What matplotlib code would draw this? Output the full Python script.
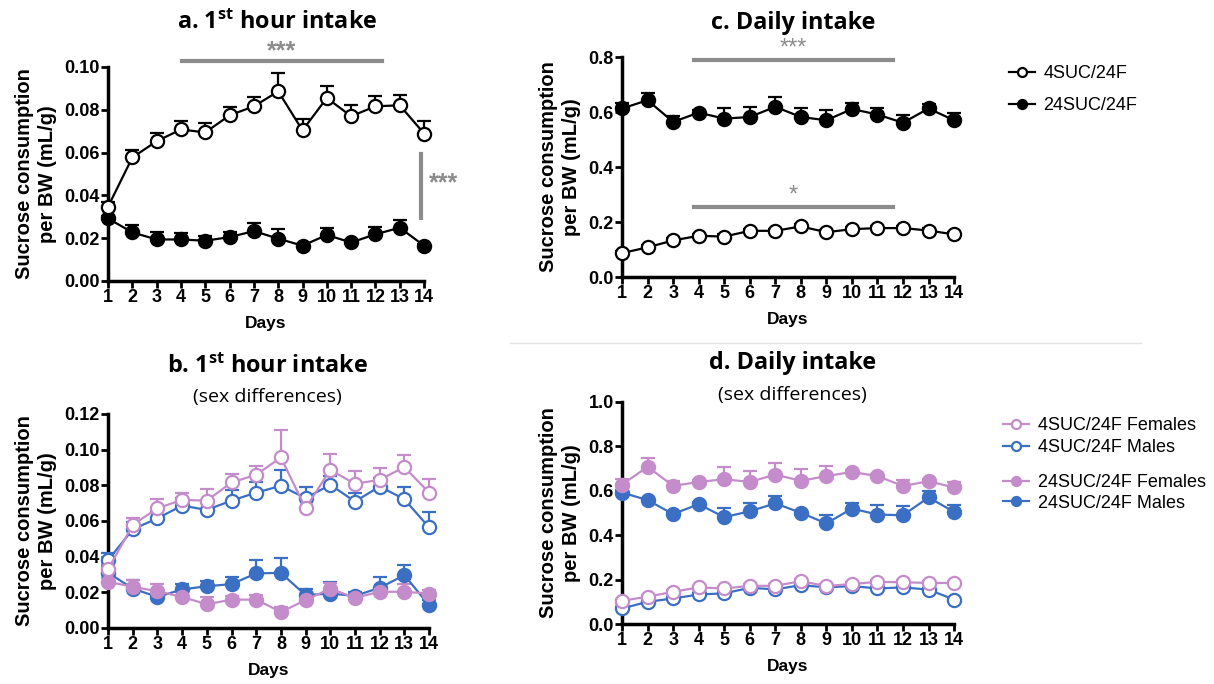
import matplotlib.pyplot as plt
import numpy as np
from matplotlib.lines import Line2D

plt.rcParams['font.family'] = ['Liberation Sans', 'DejaVu Sans']
plt.rcParams['mathtext.fontset'] = 'custom'
plt.rcParams['mathtext.rm'] = 'Open Sans'
plt.rcParams['mathtext.bf'] = 'Open Sans:bold'

days = np.arange(1, 15)

# a. 1st hour intake
a_4suc = [0.0347, 0.0577, 0.0653, 0.0708, 0.0694, 0.0774, 0.0816, 0.0886, 0.0704, 0.0855, 0.0770, 0.0816, 0.0821, 0.0689]
a_4suc_err = [0.002, 0.0034, 0.004, 0.004, 0.0042, 0.004, 0.0044, 0.0088, 0.0055, 0.0056, 0.0053, 0.0047, 0.005, 0.006]
a_24suc = [0.0292, 0.0227, 0.0194, 0.0194, 0.0188, 0.0205, 0.0233, 0.0198, 0.0165, 0.0215, 0.0180, 0.0218, 0.0249, 0.0165]
a_24suc_err = [0.001, 0.0033, 0.0036, 0.003, 0.0022, 0.0025, 0.004, 0.0043, 0.001, 0.0032, 0.001, 0.0034, 0.0036, 0.001]

# c. daily intake
c_24suc = [0.613, 0.643, 0.564, 0.598, 0.576, 0.582, 0.619, 0.582, 0.570, 0.611, 0.591, 0.561, 0.613, 0.570]
c_24suc_err = [0.02, 0.028, 0.02, 0.01, 0.04, 0.037, 0.034, 0.031, 0.039, 0.022, 0.025, 0.028, 0.018, 0.025]
c_4suc = [0.087, 0.108, 0.133, 0.150, 0.147, 0.168, 0.168, 0.184, 0.163, 0.174, 0.178, 0.178, 0.169, 0.155]
c_4suc_err = [0.008] * 14

# b. 1st hour intake, sex differences
b_4suc_f = [0.0328, 0.0578, 0.0671, 0.0718, 0.0714, 0.0816, 0.0859, 0.0956, 0.0671, 0.0887, 0.0808, 0.0831, 0.0902, 0.0759]
b_4suc_f_err = [0.003, 0.004, 0.005, 0.004, 0.0064, 0.005, 0.0047, 0.0156, 0.005, 0.0088, 0.007, 0.0065, 0.0066, 0.0077]
b_4suc_m = [0.038, 0.0553, 0.0615, 0.0686, 0.0662, 0.0714, 0.0759, 0.0797, 0.0728, 0.0803, 0.0709, 0.0793, 0.0722, 0.0564]
b_4suc_m_err = [0.004, 0.004, 0.004, 0.004, 0.004, 0.006, 0.006, 0.0086, 0.0065, 0.005, 0.005, 0.005, 0.0066, 0.0085]
b_24suc_f = [0.0259, 0.0231, 0.0206, 0.0174, 0.0133, 0.0159, 0.0159, 0.009, 0.0156, 0.0221, 0.0169, 0.0203, 0.0203, 0.0193]
b_24suc_f_err = [0.002, 0.004, 0.0043, 0.003, 0.004, 0.002, 0.0025, 0.0028, 0.002, 0.003, 0.002, 0.002, 0.0046, 0.002]
b_24suc_m = [0.031, 0.0221, 0.0174, 0.0216, 0.0234, 0.0246, 0.0306, 0.0309, 0.0184, 0.0193, 0.018, 0.0225, 0.0296, 0.0128]
b_24suc_m_err = [0.004, 0.005, 0.003, 0.003, 0.003, 0.004, 0.0074, 0.0085, 0.0037, 0.0066, 0.002, 0.006, 0.0057, 0.003]

# d. daily intake, sex differences
d_24suc_f = [0.628, 0.708, 0.622, 0.640, 0.652, 0.640, 0.673, 0.645, 0.666, 0.685, 0.666, 0.622, 0.643, 0.615]
d_24suc_f_err = [0.027, 0.04, 0.023, 0.01, 0.054, 0.048, 0.05, 0.051, 0.045, 0.01, 0.01, 0.026, 0.01, 0.025]
d_24suc_m = [0.592, 0.558, 0.495, 0.540, 0.481, 0.508, 0.543, 0.501, 0.453, 0.520, 0.493, 0.490, 0.570, 0.505]
d_24suc_m_err = [0.01, 0.01, 0.01, 0.01, 0.04, 0.035, 0.034, 0.01, 0.037, 0.027, 0.042, 0.041, 0.028, 0.03]
d_4suc_f = [0.105, 0.123, 0.145, 0.165, 0.160, 0.172, 0.172, 0.193, 0.171, 0.180, 0.190, 0.188, 0.185, 0.185]
d_4suc_m = [0.070, 0.100, 0.115, 0.133, 0.138, 0.163, 0.156, 0.175, 0.165, 0.171, 0.160, 0.165, 0.155, 0.110]
d_4suc_err = [0.008] * 14

PINK = '#c58ccc'
BLUE = '#3b6fc4'
GREY = '#8c8c8c'
ylab = 'Sucrose consumption\nper BW (mL/g)'


def series(ax, y, err, color, filled, z=3):
    mfc = color if filled else 'white'
    c = ax.errorbar(days, y, yerr=[np.zeros(14), err], fmt='o-', color=color,
                    mfc=mfc, mec=color, ms=9.5, mew=1.6, lw=1.6,
                    capsize=5, capthick=2, elinewidth=1.6, zorder=z)
    for art in c.get_children():
        art.set_clip_on(False)


def style(ax, ymax, step, fmt):
    ax.set_xlim(1, 14)
    ax.set_ylim(0, ymax)
    ax.set_xticks(days)
    ax.set_yticks(np.arange(0, ymax + step / 2, step))
    ax.set_yticklabels([fmt.format(v) for v in np.arange(0, ymax + step / 2, step)])
    for s in ['top', 'right']:
        ax.spines[s].set_visible(False)
    for s in ['left', 'bottom']:
        ax.spines[s].set_linewidth(2.5)
    ax.tick_params(direction='out', length=5, width=2, labelsize=13, pad=1)
    for lab in ax.get_xticklabels() + ax.get_yticklabels():
        lab.set_fontweight('bold')
    ax.set_xlabel('Days', fontsize=12.5, fontweight='bold', labelpad=7)
    ax.set_ylabel(ylab, fontsize=14.5, fontweight='bold', labelpad=5, linespacing=1.3)


fig = plt.figure(figsize=(12.14, 6.84), dpi=100)

ax_a = fig.add_axes([0.0890, 0.5892, 0.2603, 0.3129])
ax_c = fig.add_axes([0.5124, 0.5950, 0.2735, 0.3216])
ax_b = fig.add_axes([0.0890, 0.0819, 0.2644, 0.3129])
ax_d = fig.add_axes([0.5124, 0.0877, 0.2735, 0.3246])

# panel a
series(ax_a, a_24suc, a_24suc_err, 'black', True)
series(ax_a, a_4suc, a_4suc_err, 'black', False, z=4)
style(ax_a, 0.10, 0.02, '{:.2f}')
ax_a.plot([4.04, 12.27], [0.1028, 0.1028], color=GREY, lw=3, clip_on=False)
ax_a.text(8.15, 0.1075, '***', color=GREY, fontsize=18, fontweight='bold', ha='center', va='center')
ax_a.plot([13.875, 13.875], [0.0293, 0.0595], color=GREY, lw=3, clip_on=False)
ax_a.text(14.8, 0.0455, '***', color=GREY, fontsize=18, fontweight='bold', ha='center', va='center')

# panel c
series(ax_c, c_24suc, c_24suc_err, 'black', True)
series(ax_c, c_4suc, c_4suc_err, 'black', False, z=4)
style(ax_c, 0.8, 0.2, '{:.1f}')
ax_c.plot([3.8, 11.6], [0.79, 0.79], color=GREY, lw=3, clip_on=False)
ax_c.text(7.7, 0.832, '***', color=GREY, fontsize=17, ha='center', va='center')
ax_c.plot([3.8, 11.6], [0.255, 0.255], color=GREY, lw=3, clip_on=False)
ax_c.text(7.7, 0.297, '*', color=GREY, fontsize=17, ha='center', va='center')

# panel b
series(ax_b, b_24suc_m, b_24suc_m_err, BLUE, True)
series(ax_b, b_24suc_f, b_24suc_f_err, PINK, True)
series(ax_b, b_4suc_m, b_4suc_m_err, BLUE, False, z=4)
series(ax_b, b_4suc_f, b_4suc_f_err, PINK, False, z=4)
style(ax_b, 0.12, 0.02, '{:.2f}')

# panel d
series(ax_d, d_24suc_m, d_24suc_m_err, BLUE, True)
series(ax_d, d_24suc_f, d_24suc_f_err, PINK, True)
series(ax_d, d_4suc_m, d_4suc_err, BLUE, False, z=4)
series(ax_d, d_4suc_f, d_4suc_err, PINK, False, z=4)
style(ax_d, 1.0, 0.2, '{:.1f}')

# titles
tkw = dict(family=['Open Sans', 'DejaVu Sans'], fontweight='bold', fontsize=16.8, ha='center', va='center')
fig.text(0.228, 0.966, r'a. 1$^{\mathbf{st}}$ hour intake', **tkw)
fig.text(0.653, 0.966, 'c. Daily intake', **tkw)
fig.text(0.220, 0.463, r'b. 1$^{\mathbf{st}}$ hour intake', **tkw)
fig.text(0.653, 0.469, 'd. Daily intake', **tkw)
skw = dict(family=['Open Sans', 'DejaVu Sans'], fontsize=14, ha='center', va='center')
fig.text(0.220, 0.420, '(sex differences)', **skw)
fig.text(0.653, 0.4225, '(sex differences)', **skw)

# separator
fig.add_artist(Line2D([0.42, 0.94], [0.498, 0.498], color='#e4e4e4', lw=1))

# legends
def h(color, filled):
    return Line2D([], [], color=color, marker='o', ms=6.5, mew=1.6, lw=1.6,
                  mfc=color if filled else 'white', mec=color)

lkw = dict(frameon=False, fontsize=13, handlelength=1.4, handletextpad=0.5, loc='upper left')
fig.legend([h('black', False), h('black', True)], ['4SUC/24F', '24SUC/24F'],
           bbox_to_anchor=(0.818, 0.928), labelspacing=0.8, **lkw)
fig.legend([h(PINK, False), h(BLUE, False)], ['4SUC/24F Females', '4SUC/24F Males'],
           bbox_to_anchor=(0.813, 0.414), labelspacing=0.28, **lkw)
fig.legend([h(PINK, True), h(BLUE, True)], ['24SUC/24F Females', '24SUC/24F Males'],
           bbox_to_anchor=(0.813, 0.331), labelspacing=0.22, **lkw)

fig.savefig('out.png', dpi=100)
